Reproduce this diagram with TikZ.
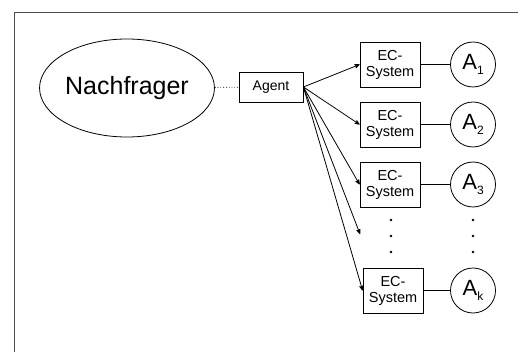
\documentclass[tikz,border=0pt]{standalone}
\usepackage{fontspec}
\setmainfont{Liberation Sans}
\usetikzlibrary{arrows}
\usetikzlibrary{shapes.geometric}

\tikzset{
 sysbox/.style={draw, inner sep=0, minimum width=60, minimum height=45, align=center, font=\fontsize{14.5}{16}\selectfont},
 agentbox/.style={draw, inner sep=0, minimum width=64, minimum height=30, font=\fontsize{14}{16}\selectfont},
 acircle/.style={draw, circle, inner sep=0, minimum size=45, font=\fontsize{22}{22}\selectfont},
}
\newcommand{\asub}[1]{A\raisebox{-5pt}{\fontsize{12}{12}\selectfont #1}}

\begin{document}
\begin{tikzpicture}[x=1pt, y=-1pt, line width=.8pt, >=stealth']
\useasboundingbox (0,0) rectangle (518,352);
\draw[black!70] (14,352) -- (14,12) -- (518,12);
\node[draw, ellipse, inner sep=0, minimum width=166, minimum height=98, font=\fontsize{25}{25}\selectfont] (nachfrager) at (127,88) {Nachfrager};
\node[agentbox] (agent) at (271,87) {Agent};
\draw[dotted] (nachfrager) -- (agent);
\foreach \n/\y in {1/64.5, 2/124.5, 3/184.5} {
 \node[sysbox] (ec\n) at (390,\y) {EC-\\System};
 \node[acircle] (a\n) at (473,\y) {\asub{\n}};
 \draw (ec\n) -- (a\n);
 \draw[->] (agent.east) -- (ec\n.west);
}
\node[sysbox] (eck) at (393,290.5) {EC-\\System};
\node[acircle] (ak) at (473,290.5) {\asub{k}};
\draw (eck) -- (ak);
\coordinate (ecdots) at (360,234);
\draw[->] (agent.east) -- (ecdots);
\draw[->] (agent.east) -- (eck.west);
\foreach \y in {220,236,252} {
 \fill (391,\y) circle (1.3);
 \fill (473,\y) circle (1.3);
}
\end{tikzpicture}
\end{document}
